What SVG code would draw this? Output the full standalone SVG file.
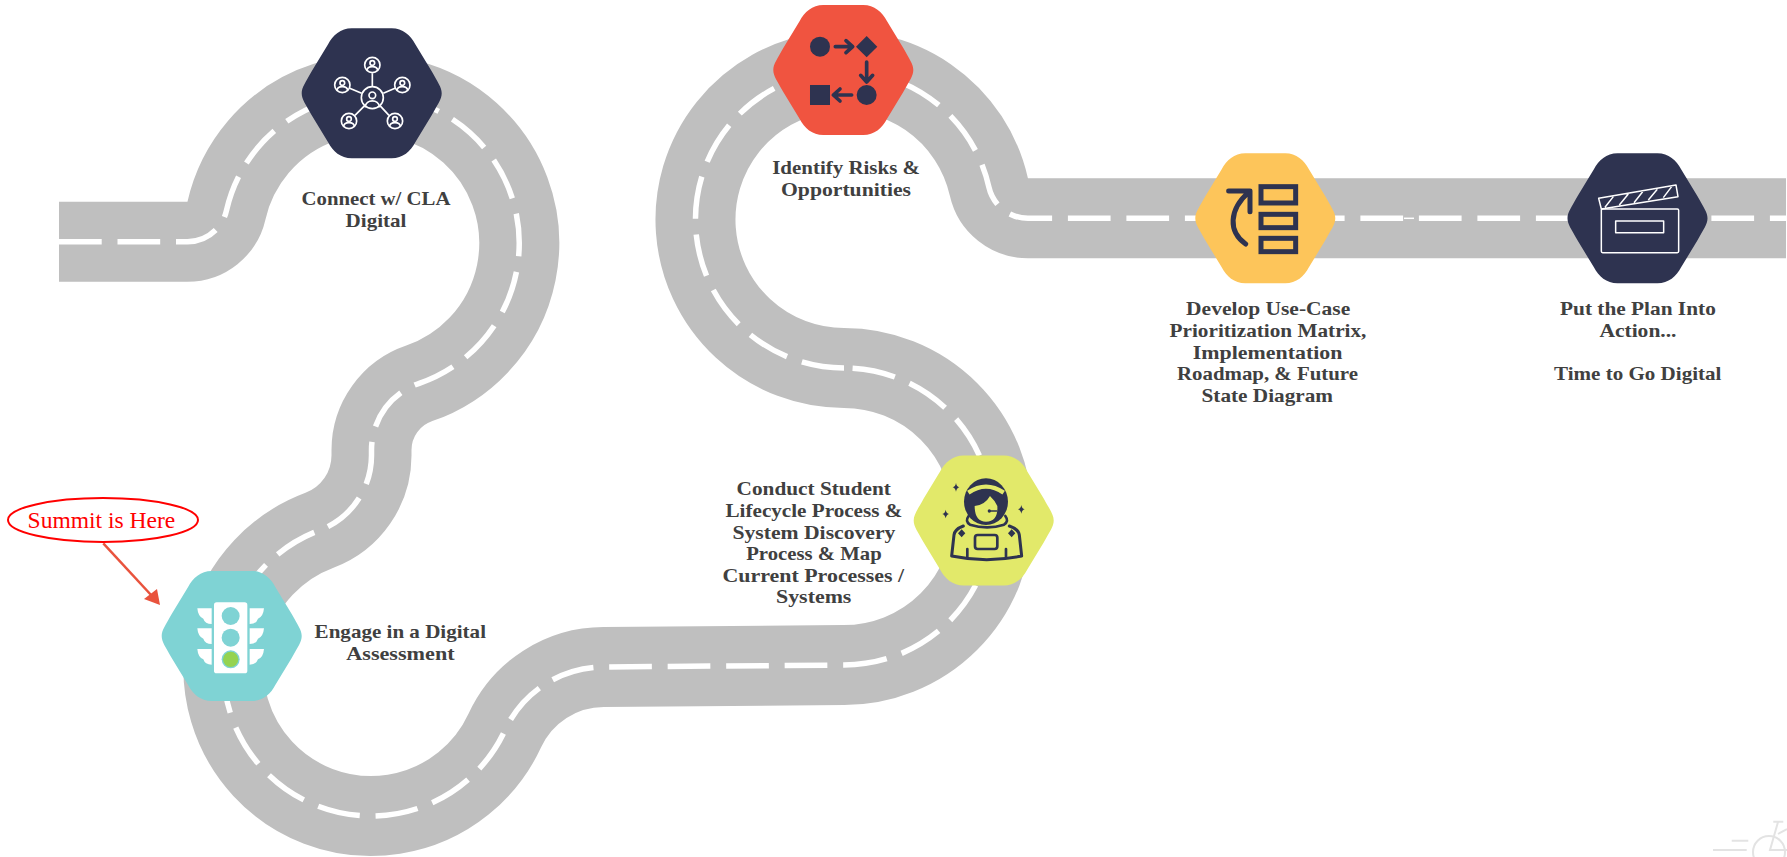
<svg xmlns="http://www.w3.org/2000/svg" xmlns:xlink="http://www.w3.org/1999/xlink" width="1787" height="857" viewBox="0 0 1787 857">
<style>
.road{fill:none;stroke:#bfbfbf;stroke-width:80}
.lane{fill:none;stroke:#fff;stroke-width:5.5;stroke-dasharray:42.7 15.8}
.lbl{font-family:"Liberation Serif","Times New Roman",serif;font-weight:700;font-size:19px;fill:#404040}
.navy{fill:#2e3350}
.ln{fill:none;stroke:#2e3350;stroke-linecap:round;stroke-linejoin:round}
.wl{fill:none;stroke:#fff;stroke-width:5}
.bike{fill:none;stroke:#e3e3e3;stroke-width:2}
</style>
<defs>
<path id="hex" d="M-20,-65 L20,-65 C31,-65 39,-58 43.6,-49 L60,-22 C66,-11 70,-6 70,0 C70,6 66,11 60,22 L43.6,49 C39,58 31,65 20,65 L-20,65 C-31,65 -39,58 -43.6,49 L-60,22 C-66,11 -70,6 -70,0 C-70,-6 -66,-11 -60,-22 L-43.6,-49 C-39,-58 -31,-65 -20,-65 Z"/>
<g id="person"><circle r="23" class="wl"/><circle cy="-6" r="7" class="wl"/><path class="wl" d="M-16,16 C-15,1 15,1 16,16"/></g>
<path id="wing" d="M112,115 L155,115 L155,162 Q135,162 130,146 Q114,140 112,115 Z" fill="#fff"/>
<path id="star" d="M0,-13 Q2,-2 10,0 Q2,2 0,13 Q-2,2 -10,0 Q-2,-2 0,-13 Z" fill="#2e3350"/>
</defs>
<g id="connectors">
<path id="road" class="road" d="M59,241.7 L187.5,241.7 A40,40 0 0 0 226.5,210.46 A148.2,148.2 0 1 1 419.3,383.3 A70.5,70.5 0 0 0 371.5,450 L371.5,455 A80,80 0 0 1 319.5,530.3 A147.5,147.5 0 1 0 504.8,730.5 A109,109 0 0 1 603.6,667 L844,665 A148.5,148.5 0 0 0 844,368 A148.5,148.5 0 1 1 988.9,187.1 A40,40 0 0 0 1028,218.3 L1786,218.3"/>
<path id="lane-a" class="lane" d="M59,241.7 L187.5,241.7 A40,40 0 0 0 226.5,210.46 A148.2,148.2 0 1 1 419.3,383.3 A70.5,70.5 0 0 0 371.5,450 L371.5,455 A80,80 0 0 1 319.5,530.3"/>
<path id="lane-e" class="lane" stroke-dashoffset="52.8" d="M319.5,530.3 A147.5,147.5 0 1 0 504.8,730.5 A109,109 0 0 1 603.6,667 L844,665"/>
<path id="lane-b" class="lane" style="stroke-dasharray:43.3 15.9" d="M844,665 A148.5,148.5 0 0 0 844,368"/>
<path id="lane-c" class="lane" d="M844,368 A148.5,148.5 0 1 1 988.9,187.1 A40,40 0 0 0 1028,218.3"/>
<path id="lane-d" class="lane" stroke-dashoffset="18.6" d="M1028,218.3 L1786,218.3"/>
<path d="M1404,218.3 L1414,218.3" fill="none" stroke="#fff" stroke-width="1.5"/>
<path id="summit-arrow" d="M103.3,543.3 L152,596" fill="none" stroke="#e9533d" stroke-width="2.5"/>
<path d="M160,605 L144,599 L157,589 Z" fill="#e9533d"/>
</g>
<g id="summit-callout">
<ellipse cx="103" cy="520" rx="95" ry="22" fill="#fff" stroke="#f00" stroke-width="2"/>
<text x="27.6" y="527.7" textLength="147.7" lengthAdjust="spacingAndGlyphs" font-family="'Liberation Serif',serif" font-size="23.5" fill="#f00">Summit is Here</text>
</g>
<g id="node-assessment">
<use href="#hex" x="231.7" y="636" fill="#7fd3d4"/>
<g transform="translate(160 570) scale(.3333)">
<rect x="162" y="97" width="100" height="213" rx="8" fill="#fff"/>
<circle cx="212" cy="138" r="27" fill="#7fd3d4"/><circle cx="212" cy="203" r="27" fill="#7fd3d4"/><circle cx="212" cy="268" r="27" fill="#7fd3d4"/><circle cx="212" cy="268" r="23" fill="#95d350"/>
<use href="#wing"/><use href="#wing" y="60"/><use href="#wing" y="122"/>
<use href="#wing" transform="matrix(-1 0 0 1 424 0)"/><use href="#wing" transform="matrix(-1 0 0 1 424 60)"/><use href="#wing" transform="matrix(-1 0 0 1 424 122)"/>
</g>
<text class="lbl" x="314.6" y="638" textLength="171.4" lengthAdjust="spacingAndGlyphs">Engage in a Digital</text>
<text class="lbl" x="346.3" y="660" textLength="108.3" lengthAdjust="spacingAndGlyphs">Assessment</text>
</g>
<g id="node-connect">
<use href="#hex" x="371.7" y="93.3" class="navy"/>
<g transform="translate(290 20) scale(.3333)">
<path class="wl" d="M247,160 V200 M179,205 L215,220 M315,205 L280,220 M195,286 L224,257 M297,286 L270,257"/>
<circle cx="247" cy="233" r="33" class="wl"/>
<circle cx="247" cy="226" r="10" class="wl"/><path class="wl" d="M225,262 C228,236 266,236 269,262"/>
<use href="#person" x="247" y="135"/><use href="#person" x="157" y="195"/><use href="#person" x="337" y="195"/><use href="#person" x="177" y="303"/><use href="#person" x="315" y="303"/>
</g>
<text class="lbl" x="301.6" y="205" textLength="148.8" lengthAdjust="spacingAndGlyphs">Connect w/ CLA</text>
<text class="lbl" x="345.6" y="227" textLength="60.8" lengthAdjust="spacingAndGlyphs">Digital</text>
</g>
<g id="node-discovery">
<use href="#hex" x="983.7" y="520.5" fill="#e2e96a"/>
<g transform="translate(910 450) scale(.3333)">
<ellipse cx="228" cy="155" rx="66" ry="70" class="navy"/>
<path d="M175,128 Q228,92 281,128" fill="none" stroke="#e2e96a" stroke-width="13"/>
<path d="M194,168 Q225,165 240,138 Q255,152 262,168 Q265,215 228,215 Q194,215 194,168 Z" fill="#e2e96a"/>
<path class="ln" stroke-width="5" d="M238,183 H260"/><circle cx="238" cy="183" r="5" class="navy"/>
<path class="ln" stroke-width="8" d="M176,198 Q164,214 180,224 Q232,240 282,224 Q298,214 286,198"/>
<path class="ln" stroke-width="9" d="M160,228 Q134,238 132,255 L125,318 Q230,340 335,318 L328,255 Q326,238 298,228"/>
<path class="ln" stroke-width="8" d="M172,297 V320 M288,297 V320"/>
<rect x="195" y="255" width="67" height="42" rx="8" fill="none" stroke="#2e3350" stroke-width="8"/>
<path class="navy" d="M155,238 L166,250 L155,262 L144,250 Z M305,238 L316,250 L305,262 L294,250 Z"/>
<use href="#star" x="138" y="112"/><use href="#star" x="107" y="192"/><use href="#star" x="334" y="178"/>
</g>
<text class="lbl" x="736.6" y="495" textLength="154.3" lengthAdjust="spacingAndGlyphs">Conduct Student</text>
<text class="lbl" x="725.5" y="517" textLength="176.8" lengthAdjust="spacingAndGlyphs">Lifecycle Process &amp;</text>
<text class="lbl" x="732.4" y="538.5" textLength="163" lengthAdjust="spacingAndGlyphs">System Discovery</text>
<text class="lbl" x="746.2" y="560" textLength="135.5" lengthAdjust="spacingAndGlyphs">Process &amp; Map</text>
<text class="lbl" x="722.5" y="581.7" textLength="181.7" lengthAdjust="spacingAndGlyphs">Current Processes /</text>
<text class="lbl" x="776" y="603.3" textLength="75.4" lengthAdjust="spacingAndGlyphs">Systems</text>
</g>
<g id="node-risks">
<use href="#hex" x="843.3" y="70" fill="#f05440"/>
<g transform="translate(770 0) scale(.3333)">
<circle cx="150" cy="140" r="30" class="navy"/>
<path class="navy" d="M290,108 L322,140 L290,172 L258,140 Z"/>
<circle cx="290" cy="285" r="30" class="navy"/>
<rect x="120" y="255" width="60" height="60" class="navy"/>
<path class="ln" stroke-width="11" d="M196,140 H246 M228,122 L248,140 L228,158 M290,186 V244 M272,226 L290,246 L308,226 M245,285 H192 M210,267 L190,285 L210,303"/>
</g>
<text class="lbl" x="772.2" y="174" textLength="147.8" lengthAdjust="spacingAndGlyphs">Identify Risks &amp;</text>
<text class="lbl" x="781" y="196" textLength="130" lengthAdjust="spacingAndGlyphs">Opportunities</text>
</g>
<g id="node-roadmap">
<use href="#hex" x="1265.3" y="218.3" fill="#fdc55a"/>
<g transform="translate(1190 150) scale(.3333)">
<g fill="none" stroke="#2e3350" stroke-width="15"><rect x="213" y="110" width="104" height="49"/><rect x="213" y="193" width="104" height="40"/><rect x="213" y="265" width="104" height="40"/></g>
<path class="ln" stroke-width="15" d="M167,282 C115,245 115,180 178,125 M116,123 H180 V185"/>
</g>
<text class="lbl" x="1186.1" y="315" textLength="164.1" lengthAdjust="spacingAndGlyphs">Develop Use-Case</text>
<text class="lbl" x="1169.6" y="336.7" textLength="196.8" lengthAdjust="spacingAndGlyphs">Prioritization Matrix,</text>
<text class="lbl" x="1192.8" y="358.5" textLength="149.6" lengthAdjust="spacingAndGlyphs">Implementation</text>
<text class="lbl" x="1177" y="380" textLength="181" lengthAdjust="spacingAndGlyphs">Roadmap, &amp; Future</text>
<text class="lbl" x="1201.5" y="401.7" textLength="131.5" lengthAdjust="spacingAndGlyphs">State Diagram</text>
</g>
<g id="node-action">
<use href="#hex" x="1637.5" y="218.3" class="navy"/>
<g transform="translate(1560 150) scale(.3333)">
<g fill="none" stroke="#fff" stroke-width="4.5" stroke-linejoin="round">
<rect x="124" y="177" width="232" height="131" rx="4"/><rect x="167" y="213" width="144" height="35"/>
<path d="M116,145 L348,105 L354,140 L124,177 Z M135,172 L160,140 M178,165 L205,132 M222,158 L248,125 M265,150 L292,118 M310,143 L335,110"/>
</g>
</g>
<text class="lbl" x="1560" y="315" textLength="155.8" lengthAdjust="spacingAndGlyphs">Put the Plan Into</text>
<text class="lbl" x="1599.4" y="336.7" textLength="77.1" lengthAdjust="spacingAndGlyphs">Action...</text>
<text class="lbl" x="1554" y="380" textLength="167.4" lengthAdjust="spacingAndGlyphs">Time to Go Digital</text>
</g>
<g id="bike-mark" class="bike">
<path d="M1713,850 H1746.7 M1731.7,840.7 H1748.3 M1773.3,821.7 H1783.3 M1778,822 L1770,850 H1787 M1778,834 L1787,829"/>
<circle cx="1769" cy="852" r="16"/>
</g>
</svg>
